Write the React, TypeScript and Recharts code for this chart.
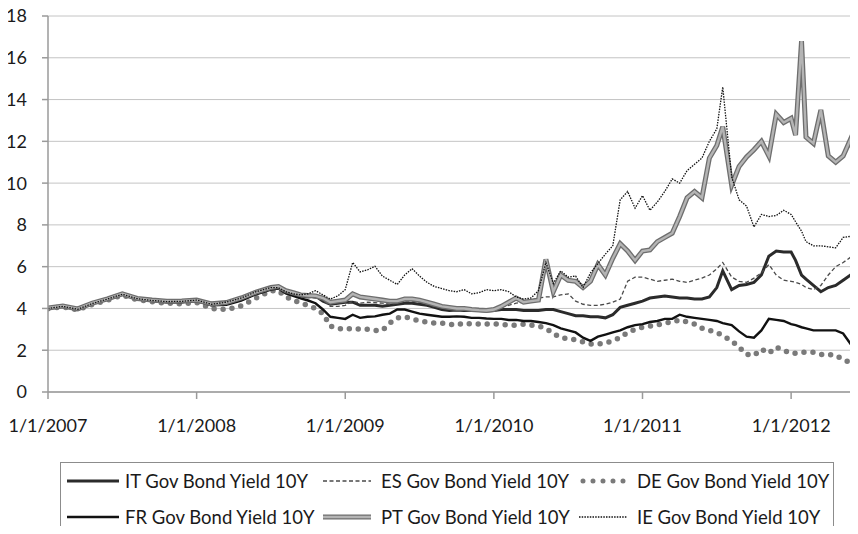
import React from "react";
import { CartesianGrid, Line, LineChart, XAxis, YAxis } from "recharts";

// decimal years
const dates = [
  2007.0, 2007.1, 2007.2, 2007.3, 2007.4, 2007.5, 2007.6, 2007.7, 2007.8, 2007.9,
  2008.0, 2008.1, 2008.2, 2008.3, 2008.4, 2008.5,
  2008.55, 2008.6, 2008.65, 2008.7, 2008.75, 2008.8, 2008.85, 2008.9, 2008.95,
  2009.0, 2009.05, 2009.1, 2009.15, 2009.2, 2009.25, 2009.3, 2009.35, 2009.4, 2009.45,
  2009.5, 2009.55, 2009.6, 2009.65, 2009.7, 2009.75, 2009.8, 2009.85, 2009.9, 2009.95,
  2010.0, 2010.05, 2010.1, 2010.15, 2010.2, 2010.25, 2010.3, 2010.35, 2010.4, 2010.45,
  2010.5, 2010.55, 2010.6, 2010.65, 2010.7, 2010.75, 2010.8, 2010.85, 2010.9, 2010.95,
  2011.0, 2011.05, 2011.1, 2011.15, 2011.2, 2011.25, 2011.3, 2011.35, 2011.4, 2011.45,
  2011.5, 2011.54, 2011.6, 2011.65, 2011.7, 2011.75, 2011.8, 2011.85, 2011.9, 2011.95,
  2012.0, 2012.03, 2012.07, 2012.1, 2012.15, 2012.2, 2012.25, 2012.3, 2012.35, 2012.4, 2012.45,
];

const itYield = [
  4.0, 4.12, 3.97, 4.25, 4.45, 4.68, 4.48, 4.38, 4.32, 4.32,
  4.38, 4.18, 4.22, 4.42, 4.72, 4.95,
  5.0, 4.8, 4.7, 4.6, 4.55, 4.6, 4.35, 4.2, 4.25,
  4.3, 4.3, 4.15, 4.15, 4.15, 4.1, 4.15, 4.2, 4.25, 4.25,
  4.2, 4.15, 4.05, 3.95, 3.9, 3.92, 3.9, 3.9, 3.9, 3.88,
  3.9, 3.95, 3.95, 3.95, 3.9, 3.9, 3.9, 3.95, 3.95, 3.85,
  3.75, 3.65, 3.65, 3.6, 3.6, 3.55, 3.7, 4.05, 4.15, 4.25,
  4.35, 4.5, 4.55, 4.6, 4.55, 4.5, 4.5, 4.45, 4.45, 4.55,
  5.0, 5.8, 4.9, 5.1, 5.15, 5.25, 5.6, 6.5, 6.75, 6.7,
  6.7, 6.3, 5.6, 5.4, 5.1, 4.8, 5.0, 5.1, 5.35, 5.6, 5.8,
];

const esYield = [
  4.0, 4.1, 3.96, 4.24, 4.44, 4.67, 4.46, 4.37, 4.32, 4.33,
  4.38, 4.2, 4.25, 4.45, 4.75, 4.98,
  5.0, 4.8, 4.7, 4.6, 4.55, 4.5, 4.4, 4.1, 4.1,
  4.15, 4.35, 4.25, 4.3, 4.28, 4.25, 4.2, 4.25, 4.35, 4.35,
  4.3, 4.2, 4.1, 4.05, 4.0, 3.98, 3.95, 3.95, 3.92, 3.9,
  3.95, 4.05, 4.15, 4.25, 4.3, 4.4, 4.5, 4.55, 4.55, 4.65,
  4.7, 4.35, 4.2, 4.15, 4.15, 4.2, 4.3, 4.45, 5.3, 5.5,
  5.5, 5.4, 5.3, 5.35, 5.4, 5.3, 5.25, 5.35, 5.45, 5.6,
  5.9, 6.2, 5.5, 5.3, 5.25, 5.45, 5.7, 6.1, 5.6, 5.35,
  5.3, 5.25, 5.15, 5.0, 4.9, 5.1, 5.6, 6.0, 6.2, 6.45, 6.9,
];

const deYield = [
  3.98, 4.08, 3.93, 4.2, 4.4, 4.63, 4.42, 4.32, 4.25, 4.22,
  4.28, 4.0, 3.95, 4.12, 4.5, 4.85,
  4.85, 4.55, 4.4, 4.25, 4.15, 4.0, 3.75, 3.15, 3.05,
  3.0, 3.05, 3.0, 3.0, 2.95, 2.95, 3.3, 3.55, 3.6, 3.5,
  3.4, 3.35, 3.3, 3.3, 3.25, 3.2, 3.3, 3.25, 3.25, 3.25,
  3.25, 3.25, 3.2, 3.2, 3.25, 3.2, 3.15, 3.05, 2.8, 2.6,
  2.55, 2.5, 2.4, 2.3, 2.3, 2.35, 2.45, 2.6, 2.85, 3.0,
  3.1, 3.15, 3.2, 3.3, 3.35, 3.45, 3.35, 3.25, 3.05, 2.95,
  2.85, 2.7, 2.45, 2.15, 1.8, 1.75, 2.05, 1.85, 2.15, 2.0,
  1.85, 1.85, 1.9, 1.9, 1.9, 1.8, 1.8, 1.75, 1.55, 1.4, 1.35,
];

const frYield = [
  4.0, 4.1, 3.95, 4.23, 4.43, 4.66, 4.45, 4.36, 4.3, 4.3,
  4.35, 4.15, 4.18, 4.38, 4.68, 4.9,
  4.95, 4.72, 4.6, 4.48, 4.38, 4.25, 3.95, 3.6, 3.55,
  3.5, 3.7, 3.55, 3.6, 3.62, 3.7, 3.75, 3.95, 3.95, 3.85,
  3.75, 3.7, 3.65, 3.6, 3.6, 3.62, 3.6, 3.55, 3.55, 3.52,
  3.5, 3.5, 3.45, 3.45, 3.4, 3.4, 3.35, 3.3, 3.2, 3.05,
  2.95, 2.85, 2.6, 2.45, 2.65, 2.75, 2.85, 2.95, 3.1, 3.2,
  3.25, 3.35, 3.4, 3.5, 3.5, 3.7, 3.6, 3.55, 3.5, 3.45,
  3.4, 3.3, 3.2, 2.9, 2.65, 2.6, 2.95, 3.5, 3.45, 3.4,
  3.25, 3.2, 3.1, 3.05, 2.95, 2.95, 2.95, 2.95, 2.8, 2.3, 2.6,
];

const ptYield = [
  4.02, 4.12, 3.98, 4.26, 4.46, 4.7, 4.48, 4.4, 4.35, 4.36,
  4.4, 4.22, 4.28, 4.5, 4.78, 5.0,
  5.05, 4.85, 4.75, 4.65, 4.62, 4.6, 4.5, 4.3, 4.35,
  4.4, 4.7, 4.55, 4.5, 4.45, 4.4, 4.35, 4.35, 4.45, 4.45,
  4.4, 4.3, 4.2, 4.1, 4.05, 4.0, 4.0, 3.95, 3.92, 3.9,
  3.95, 4.1, 4.3, 4.5, 4.3, 4.35, 4.4, 6.35, 4.8, 5.6,
  5.35, 5.3, 5.0, 5.3, 6.1, 5.6, 6.4, 7.1, 6.75, 6.3,
  6.75, 6.8, 7.2, 7.4, 7.6, 8.4, 9.3, 9.6, 9.3, 11.2,
  11.8, 12.7, 9.9, 10.8, 11.25, 11.6, 12.0, 11.3, 13.3, 12.9,
  13.1, 12.3, 16.8, 12.2, 11.9, 13.5, 11.3, 11.0, 11.3, 12.1, 10.5,
];

const ieYield = [
  4.0, 4.1, 3.96, 4.24, 4.45, 4.68, 4.47, 4.38, 4.33, 4.34,
  4.4, 4.2, 4.3, 4.5, 4.8, 5.0,
  5.0, 4.8, 4.7, 4.65, 4.7, 4.85, 4.65, 4.45, 4.6,
  4.9, 6.2, 5.75, 5.85, 6.02, 5.55, 5.35, 5.15, 5.6, 5.9,
  5.55, 5.25, 5.05, 4.95, 4.85, 4.8, 4.9, 4.7, 4.75, 4.9,
  4.85, 4.9, 4.8, 4.55, 4.45, 4.5, 4.85, 6.2, 5.2, 5.8,
  5.5, 5.55, 5.0, 5.7, 6.15, 6.6, 7.0, 9.2, 9.6, 8.8,
  9.4, 8.7, 9.1, 9.6, 10.2, 10.0, 10.6, 10.9, 11.2, 12.0,
  12.6, 14.6, 10.3, 9.2, 8.9, 7.9, 8.5, 8.4, 8.45, 8.7,
  8.5, 8.15, 7.7, 7.2, 7.0, 7.0, 6.95, 6.9, 7.4, 7.45, 7.5,
];

const yearTicks = [2007, 2008, 2009, 2010, 2011, 2012];
const yTicks = [0, 2, 4, 6, 8, 10, 12, 14, 16, 18];

const rows = dates.map((t, i) => ({
  t,
  it: itYield[i],
  es: esYield[i],
  de: deYield[i],
  fr: frYield[i],
  pt: ptYield[i],
  ie: ieYield[i],
}));

const FONT = "Lato, 'Liberation Sans', sans-serif";

type Sample = { label: string; x: number; row: number; draw: React.ReactNode };

const legendItems: Sample[] = [
  {
    label: "IT Gov Bond Yield 10Y",
    x: 6,
    row: 0,
    draw: <line x1={0} y1={6} x2={52} y2={6} stroke="#2b2b2b" strokeWidth={3} />,
  },
  {
    label: "ES Gov Bond Yield 10Y",
    x: 262,
    row: 0,
    draw: <line x1={0} y1={6} x2={48} y2={6} stroke="#4a4a4a" strokeWidth={1.3} strokeDasharray="4 2.5" />,
  },
  {
    label: "DE Gov Bond Yield 10Y",
    x: 518,
    row: 0,
    draw: (
      <line x1={4} y1={6} x2={48} y2={6} stroke="#7a7a7a" strokeWidth={5} strokeDasharray="0 10" strokeLinecap="round" />
    ),
  },
  {
    label: "FR Gov Bond Yield 10Y",
    x: 6,
    row: 1,
    draw: <line x1={0} y1={6} x2={52} y2={6} stroke="#111" strokeWidth={2.4} />,
  },
  {
    label: "PT Gov Bond Yield 10Y",
    x: 262,
    row: 1,
    draw: (
      <g>
        <line x1={0} y1={6} x2={48} y2={6} stroke="#6e6e6e" strokeWidth={5} />
        <line x1={0} y1={6} x2={48} y2={6} stroke="#b4b4b4" strokeWidth={2.4} />
      </g>
    ),
  },
  {
    label: "IE Gov Bond Yield 10Y",
    x: 518,
    row: 1,
    draw: <line x1={0} y1={6} x2={48} y2={6} stroke="#111" strokeWidth={1.3} strokeDasharray="1.5 1.2" />,
  },
];

function BondLegend() {
  return (
    <div
      style={{
        position: "absolute",
        left: 60,
        top: 462,
        width: 774,
        height: 69,
        border: "1.5px solid #8c8c8c",
        boxSizing: "border-box",
        background: "#fff",
      }}
    >
      {legendItems.map((it) => (
        <div
          key={it.label}
          style={{
            position: "absolute",
            left: it.x,
            top: it.row === 0 ? 7 : 43,
            display: "flex",
            alignItems: "center",
            gap: 4,
            fontFamily: FONT,
            fontSize: 18.5,
            color: "#1a1a1a",
            whiteSpace: "nowrap",
          }}
        >
          <svg width={54} height={12}>
            {it.draw}
          </svg>
          <span>{it.label}</span>
        </div>
      ))}
    </div>
  );
}

export default function App() {
  return (
    <div style={{ position: "relative", width: 858, height: 534, margin: -8, background: "#fff", overflow: "hidden" }}>
      <LineChart width={858} height={534} data={rows} margin={{ top: 16, right: 0, bottom: 112, left: 0 }}>
        <CartesianGrid vertical={false} stroke="#c4c4c4" strokeWidth={1} />
        <XAxis
          dataKey="t"
          type="number"
          domain={[2007, 2012.45]}
          ticks={yearTicks}
          tickFormatter={(v: number) => `1/1/${v}`}
          height={30}
          stroke="#9a9a9a"
          strokeWidth={1.5}
          tickSize={7}
          tickMargin={20}
          tick={{ fill: "#1a1a1a", fontSize: 18, fontFamily: FONT }}
          allowDataOverflow
        />
        <YAxis
          type="number"
          domain={[0, 18]}
          ticks={yTicks}
          width={48}
          stroke="#9a9a9a"
          strokeWidth={1.5}
          tickSize={6}
          tickMargin={15}
          tick={{ fill: "#1a1a1a", fontSize: 18, fontFamily: FONT }}
        />
        <Line dataKey="it" type="linear" stroke="#2b2b2b" strokeWidth={3} dot={false} isAnimationActive={false} />
        <Line
          dataKey="es"
          type="linear"
          stroke="#4a4a4a"
          strokeWidth={1.3}
          strokeDasharray="4 2.5"
          dot={false}
          isAnimationActive={false}
        />
        <Line
          dataKey="de"
          type="linear"
          stroke="#7a7a7a"
          strokeWidth={5.5}
          strokeDasharray="0 9"
          strokeLinecap="round"
          dot={false}
          isAnimationActive={false}
        />
        <Line dataKey="fr" type="linear" stroke="#111" strokeWidth={2.4} dot={false} isAnimationActive={false} />
        <Line dataKey="pt" type="linear" stroke="#6e6e6e" strokeWidth={5} dot={false} isAnimationActive={false} />
        <Line dataKey="pt" type="linear" stroke="#b4b4b4" strokeWidth={2.4} dot={false} isAnimationActive={false} />
        <Line
          dataKey="ie"
          type="linear"
          stroke="#111"
          strokeWidth={1.3}
          strokeDasharray="1.5 1.2"
          dot={false}
          isAnimationActive={false}
        />
      </LineChart>
      <BondLegend />
    </div>
  );
}
